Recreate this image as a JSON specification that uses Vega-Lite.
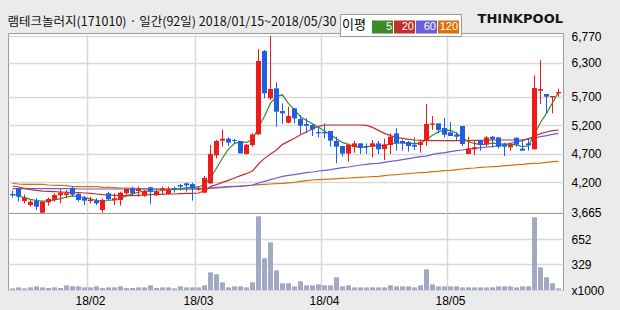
{
  "$schema": "https://vega.github.io/schema/vega-lite/v6.json",
  "background": "#ebebeb",
  "padding": {"left": 7, "top": 12, "right": 19, "bottom": 3},
  "bounds": "flush",
  "title": {"text": "램테크놀러지(171010) · 일간(92일) 2018/01/15~2018/05/30", "anchor": "start", "font": "Noto Sans CJK KR", "fontSize": 12.5, "fontWeight": "normal", "color": "#111111", "offset": -16, "frame": "bounds"},
  "datasets": {
    "d": [
      {"d":"2018-01-15","o":3994,"h":4052,"l":3929,"c":3970,"v":21,"ma5":3994,"ma20":4134,"ma60":4088,"ma120":4181},
      {"d":"2018-01-16","o":4093,"h":4093,"l":3859,"c":3947,"v":34,"ma5":3959,"ma20":4117,"ma60":4088,"ma120":4170},
      {"d":"2018-01-17","o":3871,"h":3982,"l":3830,"c":3929,"v":21,"ma5":3929,"ma20":4093,"ma60":4088,"ma120":4164},
      {"d":"2018-01-18","o":3800,"h":3888,"l":3771,"c":3859,"v":34,"ma5":3900,"ma20":4070,"ma60":4088,"ma120":4164},
      {"d":"2018-01-19","o":3877,"h":3918,"l":3713,"c":3771,"v":47,"ma5":3880,"ma20":4058,"ma60":4088,"ma120":4164},
      {"d":"2018-01-22","o":3665,"h":3859,"l":3665,"c":3859,"v":34,"ma5":3868,"ma20":4046,"ma60":4088,"ma120":4164},
      {"d":"2018-01-23","o":3847,"h":3929,"l":3789,"c":3906,"v":26,"ma5":3870,"ma20":4041,"ma60":4088,"ma120":4152},
      {"d":"2018-01-24","o":3888,"h":4006,"l":3859,"c":3976,"v":34,"ma5":3890,"ma20":4035,"ma60":4088,"ma120":4146},
      {"d":"2018-01-25","o":3970,"h":4076,"l":3830,"c":4017,"v":26,"ma5":3912,"ma20":4029,"ma60":4088,"ma120":4146},
      {"d":"2018-01-26","o":3976,"h":4064,"l":3918,"c":4006,"v":60,"ma5":3941,"ma20":4023,"ma60":4088,"ma120":4140},
      {"d":"2018-01-29","o":4099,"h":4134,"l":3947,"c":3982,"v":47,"ma5":3962,"ma20":4023,"ma60":4088,"ma120":4123},
      {"d":"2018-01-30","o":3994,"h":4017,"l":3859,"c":3888,"v":47,"ma5":3950,"ma20":4017,"ma60":4082,"ma120":4123},
      {"d":"2018-01-31","o":3929,"h":3964,"l":3800,"c":3877,"v":34,"ma5":3933,"ma20":4011,"ma60":4082,"ma120":4123},
      {"d":"2018-02-01","o":3871,"h":3947,"l":3830,"c":3894,"v":34,"ma5":3908,"ma20":4006,"ma60":4082,"ma120":4123},
      {"d":"2018-02-02","o":3882,"h":3918,"l":3800,"c":3830,"v":47,"ma5":3880,"ma20":3994,"ma60":4082,"ma120":4123},
      {"d":"2018-02-05","o":3713,"h":3918,"l":3665,"c":3888,"v":26,"ma5":3870,"ma20":3982,"ma60":4082,"ma120":4111},
      {"d":"2018-02-06","o":4006,"h":4035,"l":3877,"c":3900,"v":34,"ma5":3880,"ma20":3976,"ma60":4082,"ma120":4111},
      {"d":"2018-02-07","o":3882,"h":4006,"l":3800,"c":3918,"v":34,"ma5":3893,"ma20":3970,"ma60":4082,"ma120":4105},
      {"d":"2018-02-08","o":3888,"h":4035,"l":3789,"c":4017,"v":47,"ma5":3914,"ma20":3964,"ma60":4082,"ma120":4099},
      {"d":"2018-02-09","o":4006,"h":4099,"l":3959,"c":4082,"v":26,"ma5":3962,"ma20":3964,"ma60":4082,"ma120":4099},
      {"d":"2018-02-12","o":4093,"h":4123,"l":3976,"c":4006,"v":26,"ma5":3995,"ma20":3964,"ma60":4082,"ma120":4093},
      {"d":"2018-02-13","o":4046,"h":4123,"l":3947,"c":4082,"v":34,"ma5":4025,"ma20":3970,"ma60":4082,"ma120":4088},
      {"d":"2018-02-14","o":3964,"h":4064,"l":3947,"c":4046,"v":34,"ma5":4047,"ma20":3976,"ma60":4082,"ma120":4088},
      {"d":"2018-02-19","o":4111,"h":4123,"l":3818,"c":4035,"v":60,"ma5":4045,"ma20":3982,"ma60":4082,"ma120":4082},
      {"d":"2018-02-20","o":3970,"h":4076,"l":3964,"c":4041,"v":26,"ma5":4042,"ma20":3988,"ma60":4082,"ma120":4082},
      {"d":"2018-02-21","o":4064,"h":4123,"l":3994,"c":4088,"v":34,"ma5":4055,"ma20":3988,"ma60":4082,"ma120":4082},
      {"d":"2018-02-22","o":3994,"h":4123,"l":3982,"c":4076,"v":34,"ma5":4064,"ma20":3994,"ma60":4082,"ma120":4082},
      {"d":"2018-02-23","o":4099,"h":4123,"l":4017,"c":4076,"v":21,"ma5":4073,"ma20":3994,"ma60":4082,"ma120":4082},
      {"d":"2018-02-26","o":4152,"h":4170,"l":4052,"c":4123,"v":47,"ma5":4087,"ma20":4000,"ma60":4082,"ma120":4082},
      {"d":"2018-02-27","o":4181,"h":4193,"l":4035,"c":4146,"v":34,"ma5":4103,"ma20":4006,"ma60":4082,"ma120":4082},
      {"d":"2018-02-28","o":4170,"h":4193,"l":3877,"c":4093,"v":34,"ma5":4113,"ma20":4006,"ma60":4082,"ma120":4082},
      {"d":"2018-03-02","o":4076,"h":4123,"l":4052,"c":4099,"v":34,"ma5":4118,"ma20":4011,"ma60":4082,"ma120":4082},
      {"d":"2018-03-05","o":4017,"h":4310,"l":4006,"c":4275,"v":60,"ma5":4161,"ma20":4052,"ma60":4088,"ma120":4088},
      {"d":"2018-03-06","o":4181,"h":4855,"l":4170,"c":4697,"v":227,"ma5":4280,"ma20":4123,"ma60":4099,"ma120":4093},
      {"d":"2018-03-07","o":4673,"h":4943,"l":4620,"c":4925,"v":202,"ma5":4446,"ma20":4158,"ma60":4111,"ma120":4099},
      {"d":"2018-03-08","o":4931,"h":5130,"l":4825,"c":4966,"v":99,"ma5":4626,"ma20":4199,"ma60":4117,"ma120":4105},
      {"d":"2018-03-09","o":4966,"h":4989,"l":4837,"c":4896,"v":34,"ma5":4783,"ma20":4234,"ma60":4123,"ma120":4117},
      {"d":"2018-03-12","o":4943,"h":4966,"l":4872,"c":4925,"v":47,"ma5":4883,"ma20":4275,"ma60":4129,"ma120":4123},
      {"d":"2018-03-13","o":4925,"h":4925,"l":4708,"c":4708,"v":47,"ma5":4910,"ma20":4316,"ma60":4134,"ma120":4129},
      {"d":"2018-03-14","o":4697,"h":4872,"l":4685,"c":4861,"v":34,"ma5":4900,"ma20":4351,"ma60":4140,"ma120":4140},
      {"d":"2018-03-15","o":4855,"h":5060,"l":4825,"c":5042,"v":99,"ma5":4950,"ma20":4398,"ma60":4152,"ma120":4146},
      {"d":"2018-03-16","o":5042,"h":6541,"l":5030,"c":6331,"v":948,"ma5":5163,"ma20":4521,"ma60":4187,"ma120":4158},
      {"d":"2018-03-19","o":6506,"h":6524,"l":5675,"c":5763,"v":408,"ma5":5360,"ma20":4620,"ma60":4216,"ma120":4164},
      {"d":"2018-03-20","o":5675,"h":6770,"l":5645,"c":5839,"v":613,"ma5":5590,"ma20":4697,"ma60":4246,"ma120":4170},
      {"d":"2018-03-21","o":5850,"h":5956,"l":5177,"c":5440,"v":253,"ma5":5705,"ma20":4767,"ma60":4275,"ma120":4175},
      {"d":"2018-03-22","o":5452,"h":5587,"l":5224,"c":5411,"v":86,"ma5":5737,"ma20":4866,"ma60":4304,"ma120":4181},
      {"d":"2018-03-23","o":5247,"h":5528,"l":5235,"c":5364,"v":86,"ma5":5583,"ma20":4919,"ma60":4322,"ma120":4190},
      {"d":"2018-03-26","o":5499,"h":5499,"l":5235,"c":5323,"v":47,"ma5":5472,"ma20":4972,"ma60":4333,"ma120":4200},
      {"d":"2018-03-27","o":5312,"h":5382,"l":5048,"c":5194,"v":112,"ma5":5352,"ma20":5036,"ma60":4351,"ma120":4215},
      {"d":"2018-03-28","o":5224,"h":5323,"l":5060,"c":5194,"v":60,"ma5":5287,"ma20":5089,"ma60":4369,"ma120":4228},
      {"d":"2018-03-29","o":5206,"h":5218,"l":5013,"c":5130,"v":60,"ma5":5230,"ma20":5136,"ma60":4380,"ma120":4240},
      {"d":"2018-03-30","o":5083,"h":5165,"l":4989,"c":5060,"v":73,"ma5":5165,"ma20":5183,"ma60":4398,"ma120":4246},
      {"d":"2018-04-02","o":5083,"h":5235,"l":4972,"c":5060,"v":60,"ma5":5100,"ma20":5206,"ma60":4410,"ma120":4252},
      {"d":"2018-04-03","o":5101,"h":5101,"l":4825,"c":4931,"v":60,"ma5":5035,"ma20":5206,"ma60":4421,"ma120":4257},
      {"d":"2018-04-04","o":4925,"h":5001,"l":4533,"c":4825,"v":163,"ma5":4963,"ma20":5206,"ma60":4439,"ma120":4263},
      {"d":"2018-04-05","o":4837,"h":4837,"l":4650,"c":4703,"v":47,"ma5":4900,"ma20":5206,"ma60":4456,"ma120":4269},
      {"d":"2018-04-06","o":4703,"h":4884,"l":4562,"c":4855,"v":60,"ma5":4862,"ma20":5206,"ma60":4468,"ma120":4275},
      {"d":"2018-04-09","o":4820,"h":4925,"l":4720,"c":4884,"v":34,"ma5":4832,"ma20":5206,"ma60":4486,"ma120":4281},
      {"d":"2018-04-10","o":4884,"h":4884,"l":4697,"c":4802,"v":34,"ma5":4814,"ma20":5206,"ma60":4503,"ma120":4287},
      {"d":"2018-04-11","o":4837,"h":4884,"l":4697,"c":4820,"v":34,"ma5":4819,"ma20":5200,"ma60":4515,"ma120":4293},
      {"d":"2018-04-12","o":4825,"h":4943,"l":4638,"c":4884,"v":34,"ma5":4849,"ma20":5165,"ma60":4527,"ma120":4298},
      {"d":"2018-04-13","o":4884,"h":4925,"l":4697,"c":4779,"v":34,"ma5":4845,"ma20":5112,"ma60":4533,"ma120":4304},
      {"d":"2018-04-16","o":4784,"h":4966,"l":4591,"c":4866,"v":34,"ma5":4846,"ma20":5060,"ma60":4550,"ma120":4316},
      {"d":"2018-04-17","o":4855,"h":5060,"l":4697,"c":5001,"v":60,"ma5":4877,"ma20":5019,"ma60":4568,"ma120":4328},
      {"d":"2018-04-18","o":5060,"h":5148,"l":4755,"c":4884,"v":47,"ma5":4890,"ma20":4989,"ma60":4580,"ma120":4333},
      {"d":"2018-04-19","o":4925,"h":4954,"l":4755,"c":4884,"v":47,"ma5":4890,"ma20":4972,"ma60":4597,"ma120":4345},
      {"d":"2018-04-20","o":4908,"h":4925,"l":4738,"c":4837,"v":47,"ma5":4883,"ma20":4954,"ma60":4615,"ma120":4351},
      {"d":"2018-04-23","o":4861,"h":4989,"l":4767,"c":4825,"v":34,"ma5":4885,"ma20":4943,"ma60":4632,"ma120":4363},
      {"d":"2018-04-24","o":4855,"h":4943,"l":4720,"c":4908,"v":60,"ma5":4882,"ma20":4937,"ma60":4650,"ma120":4369},
      {"d":"2018-04-25","o":4925,"h":5575,"l":4843,"c":5224,"v":266,"ma5":4951,"ma20":4937,"ma60":4661,"ma120":4374},
      {"d":"2018-04-26","o":5212,"h":5364,"l":5118,"c":5235,"v":73,"ma5":5027,"ma20":4931,"ma60":4691,"ma120":4386},
      {"d":"2018-04-27","o":5235,"h":5235,"l":5060,"c":5118,"v":47,"ma5":5085,"ma20":4931,"ma60":4708,"ma120":4392},
      {"d":"2018-04-30","o":5153,"h":5329,"l":4989,"c":5036,"v":47,"ma5":5117,"ma20":4931,"ma60":4720,"ma120":4404},
      {"d":"2018-05-02","o":5077,"h":5259,"l":5013,"c":5013,"v":47,"ma5":5113,"ma20":4931,"ma60":4738,"ma120":4410},
      {"d":"2018-05-03","o":5036,"h":5083,"l":4943,"c":5001,"v":47,"ma5":5061,"ma20":4931,"ma60":4755,"ma120":4421},
      {"d":"2018-05-04","o":5189,"h":5189,"l":4837,"c":4872,"v":34,"ma5":4981,"ma20":4931,"ma60":4767,"ma120":4433},
      {"d":"2018-05-08","o":4697,"h":5001,"l":4697,"c":4796,"v":34,"ma5":4914,"ma20":4931,"ma60":4784,"ma120":4445},
      {"d":"2018-05-09","o":4779,"h":4943,"l":4679,"c":4814,"v":34,"ma5":4882,"ma20":4937,"ma60":4796,"ma120":4451},
      {"d":"2018-05-10","o":4943,"h":4943,"l":4755,"c":4855,"v":34,"ma5":4861,"ma20":4937,"ma60":4808,"ma120":4462},
      {"d":"2018-05-11","o":4866,"h":5013,"l":4825,"c":4989,"v":34,"ma5":4868,"ma20":4937,"ma60":4820,"ma120":4468},
      {"d":"2018-05-14","o":5001,"h":5013,"l":4814,"c":4954,"v":34,"ma5":4889,"ma20":4943,"ma60":4825,"ma120":4474},
      {"d":"2018-05-15","o":4989,"h":4989,"l":4796,"c":4825,"v":47,"ma5":4880,"ma20":4943,"ma60":4843,"ma120":4480},
      {"d":"2018-05-16","o":4861,"h":4896,"l":4661,"c":4825,"v":47,"ma5":4872,"ma20":4943,"ma60":4861,"ma120":4492},
      {"d":"2018-05-17","o":4814,"h":4896,"l":4755,"c":4855,"v":47,"ma5":4866,"ma20":4943,"ma60":4884,"ma120":4497},
      {"d":"2018-05-18","o":4984,"h":4984,"l":4825,"c":4861,"v":34,"ma5":4856,"ma20":4943,"ma60":4908,"ma120":4509},
      {"d":"2018-05-21","o":4790,"h":4954,"l":4755,"c":4755,"v":47,"ma5":4825,"ma20":4943,"ma60":4931,"ma120":4515},
      {"d":"2018-05-23","o":4884,"h":4966,"l":4755,"c":4849,"v":47,"ma5":4842,"ma20":4966,"ma60":4960,"ma120":4527},
      {"d":"2018-05-24","o":4779,"h":6079,"l":4779,"c":5856,"v":935,"ma5":5050,"ma20":5013,"ma60":4978,"ma120":4533},
      {"d":"2018-05-25","o":5809,"h":6348,"l":5575,"c":5839,"v":292,"ma5":5250,"ma20":5054,"ma60":5001,"ma120":4538},
      {"d":"2018-05-28","o":5751,"h":5751,"l":5399,"c":5704,"v":163,"ma5":5410,"ma20":5083,"ma60":5019,"ma120":4550},
      {"d":"2018-05-29","o":5692,"h":5716,"l":5411,"c":5716,"v":86,"ma5":5596,"ma20":5107,"ma60":5042,"ma120":4562},
      {"d":"2018-05-30","o":5763,"h":5845,"l":5704,"c":5786,"v":21,"ma5":5784,"ma20":5118,"ma60":5060,"ma120":4568}
    ]
  },
  "vconcat": [
    {
      "width": 555,
      "height": 180,
      "title": {"text": "THINKPOOL", "anchor": "end", "frame": "group", "offset": 4, "font": "DejaVu Sans", "fontSize": 13, "fontWeight": "bold", "color": "#161616"},
      "data": {"name": "d"},
      "encoding": {
        "x": {
          "field": "d", "type": "ordinal",
          "scale": {"type": "band", "paddingInner": 0, "paddingOuter": 0.25},
          "axis": {"values": ["2018-02-01", "2018-03-02", "2018-04-02", "2018-05-02"], "labels": false, "ticks": false, "domain": false, "grid": true, "bandPosition": 0, "title": null}
        }
      },
      "layer": [
        {
          "transform": [{"fold": ["ma120", "ma60", "ma20", "ma5"], "as": ["ma", "val"]}],
          "mark": {"type": "line", "strokeWidth": 1.2},
          "encoding": {
            "y": {
              "field": "val", "type": "quantitative",
              "scale": {"domain": [3660, 6823], "nice": false, "zero": false},
              "axis": {
                "orient": "right", "values": [3665, 4200, 4700, 5200, 5700, 6300, 6770], "format": ",d",
                "title": null, "domain": false, "ticks": false, "tickSize": 0, "labelPadding": 8, "labelFlush": false, "labelOverlap": false,
                "encode": {
                  "labels": {"update": {"fill": {"signal": "datum.value == 6770 ? '#d5700c' : datum.value == 3665 ? '#1a1ae0' : '#000000'"}}},
                  "grid": {"update": {"strokeOpacity": {"signal": "datum.value == 6770 || datum.value == 3665 ? 0 : 1"}}}
                }
              }
            },
            "color": {
              "field": "ma", "type": "nominal",
              "scale": {"domain": ["ma5", "ma20", "ma60", "ma120"], "range": ["#3d8b26", "#c0302c", "#6a5fd8", "#d9700c"]},
              "legend": {
                "orient": "none", "legendX": 332, "legendY": -19,
                "direction": "horizontal",
                "title": "이평", "titleOrient": "left", "titleFont": "Noto Sans CJK KR", "titleFontSize": 13, "titleFontWeight": "normal", "titleColor": "#000000", "titlePadding": 6,
                "fillColor": "#ffffff", "strokeColor": "#999999", "padding": 2,
                "symbolType": "M-1,-0.62L1,-0.62L1,0.62L-1,0.62Z", "symbolSize": 441, "symbolStrokeWidth": 0,
                "labelAlign": "right", "labelOffset": -1, "labelColor": "#ffffff", "labelFont": "Liberation Sans", "labelFontSize": 11,
                "labelExpr": "replace(datum.label, 'ma', '')",
                "columnPadding": 1,
                "encode": {"symbols": {"update": {"fill": {"scale": "color", "field": "value"}, "stroke": {"value": "transparent"}, "opacity": {"value": 1}}}}
              }
            }
          }
        },
        {
          "mark": {"type": "rule", "strokeWidth": 1},
          "encoding": {
            "y": {
              "field": "l", "type": "quantitative",
              "scale": {"domain": [3660, 6823], "nice": false, "zero": false},
              "axis": {
                "orient": "right", "values": [3665, 4200, 4700, 5200, 5700, 6300, 6770], "format": ",d",
                "title": null, "domain": false, "ticks": false, "tickSize": 0, "labelPadding": 8, "labelFlush": false, "labelOverlap": false,
                "encode": {
                  "labels": {"update": {"fill": {"signal": "datum.value == 6770 ? '#d5700c' : datum.value == 3665 ? '#1a1ae0' : '#000000'"}}},
                  "grid": {"update": {"strokeOpacity": {"signal": "datum.value == 6770 || datum.value == 3665 ? 0 : 1"}}}
                }
              }
            },
            "y2": {"field": "h"},
            "color": {"condition": {"test": "datum.c >= datum.o", "value": "#ee1b1b"}, "value": "#1f5fe0"}
          }
        },
        {
          "mark": {"type": "bar", "width": {"band": 0.83}},
          "encoding": {
            "y": {
              "field": "o", "type": "quantitative",
              "scale": {"domain": [3660, 6823], "nice": false, "zero": false},
              "axis": {
                "orient": "right", "values": [3665, 4200, 4700, 5200, 5700, 6300, 6770], "format": ",d",
                "title": null, "domain": false, "ticks": false, "tickSize": 0, "labelPadding": 8, "labelFlush": false, "labelOverlap": false,
                "encode": {
                  "labels": {"update": {"fill": {"signal": "datum.value == 6770 ? '#d5700c' : datum.value == 3665 ? '#1a1ae0' : '#000000'"}}},
                  "grid": {"update": {"strokeOpacity": {"signal": "datum.value == 6770 || datum.value == 3665 ? 0 : 1"}}}
                }
              }
            },
            "y2": {"field": "c"},
            "color": {"condition": {"test": "datum.c >= datum.o", "value": "#ee1b1b"}, "value": "#1f5fe0"}
          }
        }
      ]
    },
    {
      "width": 555,
      "height": 77,
      "data": {"name": "d"},
      "mark": {"type": "bar", "width": {"band": 0.83}, "color": "#a2aac3"},
      "encoding": {
        "x": {
          "field": "d", "type": "ordinal",
          "scale": {"type": "band", "paddingInner": 0, "paddingOuter": 0.25},
          "axis": {"values": ["2018-02-01", "2018-03-02", "2018-04-02", "2018-05-02"], "labelExpr": "'18/' + slice(datum.value, 5, 7)", "labelAngle": 0, "labelPadding": 5, "ticks": false, "tickSize": 0, "domain": false, "grid": true, "bandPosition": 0, "title": null}
        },
        "y": {
          "field": "v", "type": "quantitative",
          "scale": {"domain": [0, 990], "nice": false},
          "axis": {
            "orient": "right", "values": [0, 329, 652], "labelExpr": "datum.value == 0 ? 'x1000' : datum.label",
            "title": null, "domain": false, "ticks": false, "tickSize": 0, "labelPadding": 8, "labelFlush": false, "labelOverlap": false,
            "encode": {"grid": {"update": {"strokeOpacity": {"signal": "datum.value == 0 ? 0 : 1"}}}}
          }
        }
      }
    }
  ],
  "spacing": 0,
  "config": {
    "view": {"fill": "#ffffff", "stroke": "#9a9a9a", "strokeWidth": 1},
    "axis": {"gridColor": "#d9d9d9", "gridWidth": 1.5, "labelFont": "Liberation Sans", "labelFontSize": 12, "labelColor": "#000000"}
  }
}
